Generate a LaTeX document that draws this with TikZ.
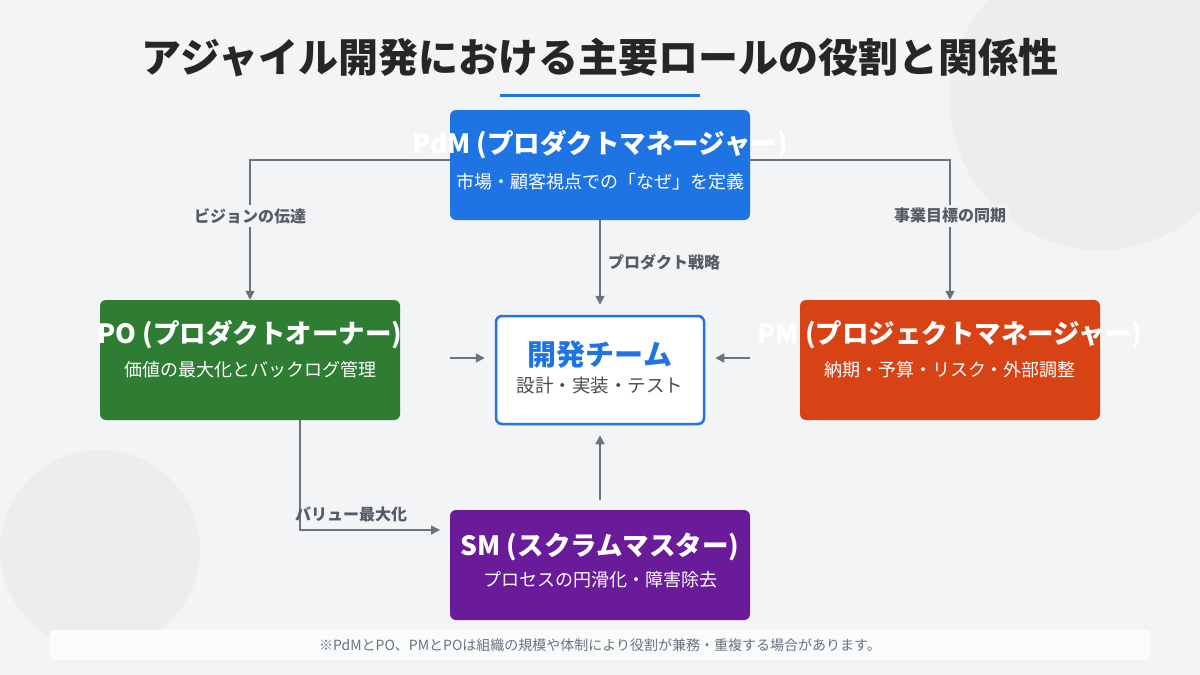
\documentclass[tikz,border=0pt]{standalone}
\usepackage{fontspec}
\setmainfont{Noto Sans CJK JP}
\usetikzlibrary{positioning,arrows.meta}
\definecolor{pdmblue}{HTML}{1E74E3}
\definecolor{pogreen}{HTML}{2E7D32}
\definecolor{pmred}{HTML}{D84315}
\definecolor{smpurple}{HTML}{6A1B9A}
\definecolor{linegray}{HTML}{6B7280}
\definecolor{bggray}{HTML}{F3F4F6}
\tikzset{
  role/.style={rounded corners=6pt, minimum width=300pt, minimum height=110pt},
  head/.style={text=white, font=\fontsize{26.5}{28}\selectfont\bfseries},
  sub/.style={text=white, font=\fontsize{18}{20}\selectfont},
  link/.style={draw=linegray, line width=1.5pt, -{Triangle[length=9pt,width=9pt]}},
  tag/.style={text=linegray!80!black, font=\fontsize{16}{18}\selectfont\bfseries}
}
\begin{document}
\begin{tikzpicture}[x=1pt,y=-1pt]

\useasboundingbox (0,0) rectangle (1200,675);
\fill[bggray] (0,0) rectangle (1200,675);

% background circles
\fill[black!7] (1100,100) circle (150);
\fill[black!7] (100,550) circle (100);

% title
\node[font=\fontsize{40}{44}\selectfont\bfseries, text=black!85] (title) at (600,58) {アジャイル開発における主要ロールの役割と関係性};
\draw[pdmblue, line width=3pt] (500,95) -- (700,95);

% boxes
\node[role, fill=pdmblue, minimum height=110pt] (pdm) at (600,165) {};
\node[role, fill=pogreen, minimum height=120pt] (po) at (250,360) {};
\node[role, fill=pmred, minimum height=120pt] (pm) at (950,360) {};
\node[role, fill=smpurple, minimum height=110pt] (sm) at (600,565) {};
\node[role, fill=white, draw=pdmblue, line width=2.5pt, minimum width=208pt, minimum height=108pt] (dev) at (600,370) {};

% texts
\node[head] (pdmh) at (600,145) {PdM (プロダクトマネージャー)};
\node[sub] (pdms) at (600,182) {市場・顧客視点での「なぜ」を定義};
\node[head] (poh) at (250,335) {PO (プロダクトオーナー)};
\node[sub] (pos) at (250,370) {価値の最大化とバックログ管理};
\node[head] (pmh) at (950,335) {PM (プロジェクトマネージャー)};
\node[sub] (pms) at (950,370) {納期・予算・リスク・外部調整};
\node[head] (smh) at (600,547) {SM (スクラムマスター)};
\node[sub] (sms) at (600,580) {プロセスの円滑化・障害除去};
\node[head, text=pdmblue, font=\fontsize{29}{31}\selectfont\bfseries] (devh) at (600,355) {開発チーム};
\node[sub, text=black!70, font=\fontsize{18.5}{20}\selectfont] (devs) at (600,386) {設計・実装・テスト};

% connectors
\coordinate (pdmL) at (450,160);
\coordinate (pdmR) at (750,160);
\draw[link] (pdmL) -| (po.north) node[tag, pos=0.7, fill=bggray] {ビジョンの伝達};
\draw[link] (pdmR) -| (pm.north) node[tag, pos=0.7, fill=bggray] {事業目標の同期};
\draw[link, shorten >=10pt] (pdm.south) -- (dev.north) node[tag, pos=0.45, right=4pt] {プロダクト戦略};
\draw[link, shorten <=50pt, shorten >=10pt] (po.east |- 0,358) -- (dev.west |- 0,358);
\draw[link, shorten <=50pt, shorten >=10pt] (pm.west |- 0,358) -- (dev.east |- 0,358);
\draw[link, shorten <=10pt, shorten >=10pt] (sm.north) -- (dev.south);
\coordinate (poB) at (300,420);
\coordinate (smL) at (450,530);
\draw[link, shorten >=10pt] (poB) |- (smL) node[tag, pos=0.67, above=4pt] {バリュー最大化};

% footnote
\fill[white!60!bggray, rounded corners=3pt] (50,630) rectangle (1150,660);
\node[text=linegray, font=\fontsize{14}{16}\selectfont] (note) at (600,645) {※PdMとPO、PMとPOは組織の規模や体制により役割が兼務・重複する場合があります。};

\end{tikzpicture}
\end{document}
